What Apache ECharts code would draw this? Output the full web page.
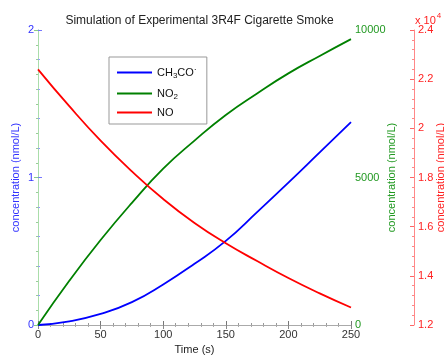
<!DOCTYPE html>
<html>
<head>
<meta charset="utf-8">
<script src="https://cdn.jsdelivr.net/npm/echarts@6/dist/echarts.min.js"></script>
<style>html,body{margin:0;padding:0;background:#fff;}#c{width:444px;height:356px;}</style>
</head>
<body>
<div id="c"></div>
<script>
var time = [0, 25, 50, 75, 100, 125, 150, 175, 200, 225, 250];
var ch3co = [0, 0.025, 0.075, 0.155, 0.275, 0.415, 0.57, 0.765, 0.965, 1.17, 1.375];
var no2 = [0, 1500, 2880, 4140, 5300, 6250, 7120, 7850, 8530, 9120, 9690];
var no = [22400, 20900, 19500, 18250, 17125, 16150, 15325, 14600, 13910, 13285, 12710];
var xTicks = [0, 50, 100, 150, 200, 250];

var FONT = '"Liberation Sans", Arial, sans-serif';
function pairs(ys) { return time.map(function (t, i) { return [t, ys[i]]; }); }

var chart = echarts.init(document.getElementById('c'));
chart.setOption({
  animation: false,
  title: {
    text: 'Simulation of Experimental 3R4F Cigarette Smoke',
    left: 194.5, textAlign: 'center', top: 10,
    textStyle: { fontFamily: FONT, fontSize: 12, fontWeight: 'normal', color: '#222' }
  },
  grid: { left: 38, right: 93, top: 30, bottom: 31, containLabel: false, outerBoundsMode: 'none' },
  legend: {
    orient: 'vertical', left: 109, top: 57,
    padding: [8, 10, 6, 8], borderColor: '#999', borderWidth: 1,
    itemWidth: 35, itemHeight: 2, itemGap: 6,
    data: [{ name: 'CH3CO', icon: 'rect' }, { name: 'NO2', icon: 'rect' }, { name: 'NO', icon: 'rect' }],
    formatter: function (n) {
      if (n === 'CH3CO') return '{n|CH}{s|3}{n|CO}{p|·}';
      if (n === 'NO2') return '{n|NO}{s|2}';
      return '{n|NO}';
    },
    textStyle: {
      fontFamily: FONT, fontSize: 11, color: '#111',
      rich: {
        n: { fontFamily: FONT, fontSize: 11, color: '#111', lineHeight: 14 },
        s: { fontFamily: FONT, fontSize: 8, color: '#111', lineHeight: 14, padding: [7, 0, 0, 0] },
        p: { fontFamily: FONT, fontSize: 9, color: '#111', lineHeight: 14, padding: [0, 0, 6, 0] }
      }
    }
  },
  graphic: [{
    type: 'text', left: 415, top: 11,
    style: {
      text: '{a|x 10}{b|4}',
      rich: {
        a: { fontFamily: FONT, fontSize: 11, fill: '#ff2222', lineHeight: 14, padding: [4, 0, 0, 0] },
        b: { fontFamily: FONT, fontSize: 8, fill: '#ff2222', lineHeight: 14, padding: [0, 0, 6, 1] }
      }
    }
  }],
  xAxis: [{
    type: 'value', min: 0, max: 250, interval: 50,
    name: 'Time (s)', nameLocation: 'middle', nameGap: 19, nameMoveOverlap: false,
    nameTextStyle: { fontFamily: FONT, fontSize: 11, color: '#222' },
    axisLine: { show: true, lineStyle: { color: '#999', width: 1 } },
    axisTick: { show: true, inside: true, length: 4, lineStyle: { color: '#777' } },
    minorTick: { show: true, splitNumber: 5, length: 2, lineStyle: { color: '#999' } },
    axisLabel: { fontFamily: FONT, fontSize: 11, color: '#333', margin: 4,
      formatter: function (v) { return xTicks.indexOf(v) >= 0 ? String(v) : ''; } },
    splitLine: { show: false }
  }, {
    type: 'value', min: 0, max: 250, interval: 50, position: 'top',
    axisLine: { show: true, lineStyle: { color: '#aaa', width: 1 } },
    axisTick: { show: true, inside: true, length: 4, lineStyle: { color: '#888' } },
    minorTick: { show: true, splitNumber: 5, length: 2, lineStyle: { color: '#aaa' } },
    axisLabel: { show: false }, splitLine: { show: false }
  }],
  yAxis: [{
    type: 'value', min: 0, max: 2, interval: 1, position: 'left',
    name: 'concentration (nmol/L)', nameLocation: 'middle', nameGap: 17, nameMoveOverlap: false,
    nameTextStyle: { fontFamily: FONT, fontSize: 11, color: '#3333ff' },
    axisLine: { show: true, lineStyle: { color: '#9999ff', width: 1 } },
    axisTick: { show: true, inside: true, length: 4, lineStyle: { color: '#7777ff' } },
    minorTick: { show: true, splitNumber: 5, length: 2, lineStyle: { color: '#9999ff' } },
    axisLabel: { fontFamily: FONT, fontSize: 11, color: '#3333ff', margin: 4 },
    splitLine: { show: false }
  }, {
    type: 'value', min: 0, max: 10000, interval: 5000, position: 'right',
    name: 'concentration (nmol/L)', nameLocation: 'middle', nameGap: 35, nameMoveOverlap: false,
    nameTextStyle: { fontFamily: FONT, fontSize: 11, color: '#229922' },
    axisLine: { show: true, lineStyle: { color: '#aaddaa', width: 1 } },
    axisTick: { show: true, inside: true, length: 4, lineStyle: { color: '#88cc88' } },
    minorTick: { show: true, splitNumber: 10, length: 2, lineStyle: { color: '#99cc99' } },
    axisLabel: { fontFamily: FONT, fontSize: 11, color: '#229922', margin: 4,
      formatter: function (v) { return String(v); } },
    splitLine: { show: false }
  }, {
    type: 'value', min: 12000, max: 24000, interval: 2000, position: 'right', offset: 63,
    name: 'concentration (nmol/L)', nameLocation: 'middle', nameGap: 21, nameMoveOverlap: false,
    nameTextStyle: { fontFamily: FONT, fontSize: 11, color: '#ff2222' },
    axisLine: { show: true, lineStyle: { color: '#ff8888', width: 1 } },
    axisTick: { show: true, inside: true, length: 4, lineStyle: { color: '#ff6666' } },
    minorTick: { show: true, splitNumber: 5, length: 2, lineStyle: { color: '#ff8888' } },
    axisLabel: { fontFamily: FONT, fontSize: 11, color: '#ff2222', margin: 4,
      formatter: function (v) { return (v / 10000).toFixed(1).replace(/\.0$/, ''); } },
    splitLine: { show: false }
  }],
  series: [{
    name: 'CH3CO', type: 'line', xAxisIndex: 0, yAxisIndex: 0, data: pairs(ch3co),
    smooth: true, symbol: 'none', lineStyle: { color: '#0000ff', width: 1.8 }, itemStyle: { color: '#0000ff' }
  }, {
    name: 'NO2', type: 'line', xAxisIndex: 0, yAxisIndex: 1, data: pairs(no2),
    smooth: true, symbol: 'none', lineStyle: { color: '#008000', width: 1.8 }, itemStyle: { color: '#008000' }
  }, {
    name: 'NO', type: 'line', xAxisIndex: 0, yAxisIndex: 2, data: pairs(no),
    smooth: true, symbol: 'none', lineStyle: { color: '#ff0000', width: 1.8 }, itemStyle: { color: '#ff0000' }
  }]
});
</script>
</body>
</html>
